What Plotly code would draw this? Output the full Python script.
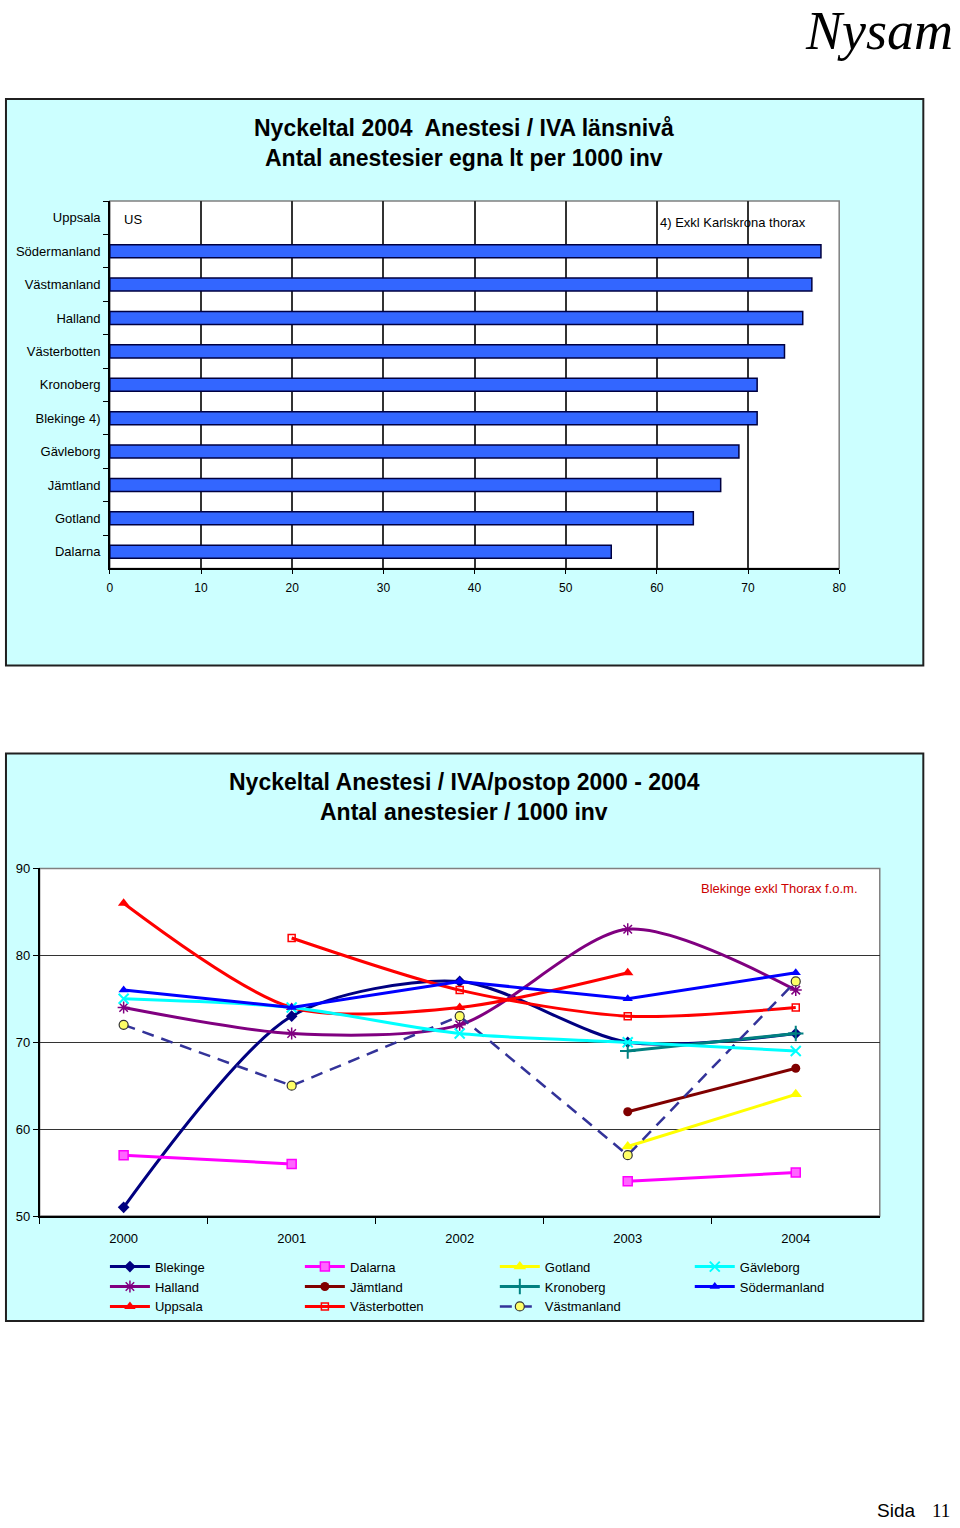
import plotly.graph_objects as go

# ---------------- data ----------------
bar_regions = ["Uppsala", "Södermanland", "Västmanland", "Halland", "Västerbotten",
               "Kronoberg", "Blekinge 4)", "Gävleborg", "Jämtland", "Gotland", "Dalarna"]
bar_values = [None, 78, 77, 76, 74, 71, 71, 69, 67, 64, 55]

years = ["2000", "2001", "2002", "2003", "2004"]
blekinge = [51, 73, 77, 70, 71]
dalarna = [57, 56, None, 54, 55]
gotland = [None, None, None, 58, 64]
gavleborg = [75, 74, 71, 70, 69]
halland = [74, 71, 72, 83, 76]
jamtland = [None, None, None, 62, 67]
kronoberg = [None, None, None, 69, 71]
sodermanland = [76, 74, 77, 75, 78]
uppsala = [86, 74, 74, 78, None]
vasterbotten = [None, 82, 76, 73, 74]
vastmanland = [72, 65, 73, 57, 77]

W, H = 960, 1528
FONT = "Liberation Sans, Arial, sans-serif"
NARROW = "Liberation Sans Narrow, Arial Narrow, Liberation Sans, Arial, sans-serif"


def px(x):
    return x / W


def py(y):
    return 1 - y / H


fig = go.Figure()

# ---------------- bar chart ----------------
fig.add_trace(go.Bar(
    x=bar_values, y=bar_regions, orientation="h",
    marker=dict(color="#3366FF", line=dict(color="#000040", width=1.5)),
    width=0.39, xaxis="x", yaxis="y", showlegend=False,
))

# ---------------- line chart ----------------
series = [
    ("Blekinge", blekinge, "#000080", "diamond", dict(size=9, color="#000080"), "solid", "spline", "legend"),
    ("Halland", halland, "#800080", "asterisk-open", dict(size=10, color="#800080", line=dict(width=1.5, color="#800080")), "solid", "spline", "legend"),
    ("Uppsala", uppsala, "#FF0000", "triangle-up", dict(size=10, color="#FF0000"), "solid", "spline", "legend"),
    ("Dalarna", dalarna, "#FF00FF", "square", dict(size=9, color="#FF66FF", line=dict(width=1.5, color="#FF00FF")), "solid", "linear", "legend2"),
    ("Jämtland", jamtland, "#800000", "circle", dict(size=9, color="#800000"), "solid", "linear", "legend2"),
    ("Västerbotten", vasterbotten, "#FF0000", "square-open", dict(size=7, color="#FF0000", line=dict(width=1.5, color="#FF0000")), "solid", "spline", "legend2"),
    ("Gotland", gotland, "#FFFF00", "triangle-up", dict(size=11, color="#FFFF00"), "solid", "linear", "legend3"),
    ("Kronoberg", kronoberg, "#008080", "cross-thin-open", dict(size=11, color="#008080", line=dict(width=2, color="#008080")), "solid", "linear", "legend3"),
    ("Västmanland", vastmanland, "#333399", "circle", dict(size=9, color="#FFFF66", line=dict(width=1.2, color="#333333")), "dash", "linear", "legend3"),
    ("Gävleborg", gavleborg, "#00FFFF", "x-thin-open", dict(size=10, color="#00FFFF", line=dict(width=2, color="#00FFFF")), "solid", "spline", "legend4"),
    ("Södermanland", sodermanland, "#0000FF", "triangle-up", dict(size=9, color="#0000FF"), "solid", "linear", "legend4"),
]

for name, data, color, symbol, mk, dash, shape, leg in series:
    fig.add_trace(go.Scatter(
        x=years, y=data, name=name, mode="lines+markers",
        line=dict(color=color, width=3 if dash == "solid" else 2.5,
                  dash="solid" if dash == "solid" else "12px,8px",
                  shape=shape, smoothing=0.8),
        marker=dict(symbol=symbol, **mk),
        connectgaps=False, xaxis="x2", yaxis="y2", legend=leg,
    ))

# ---------------- layout ----------------
shapes = [
    dict(type="rect", xref="paper", yref="paper", x0=px(3), x1=px(930), y0=py(665), y1=py(93),
         fillcolor="#CCFFFF", line=dict(color="#202020", width=2), layer="below"),
    dict(type="rect", xref="paper", yref="paper", x0=px(3), x1=px(930), y0=py(1327), y1=py(754),
         fillcolor="#CCFFFF", line=dict(color="#202020", width=2), layer="below"),
    dict(type="rect", xref="x domain", yref="y domain", x0=0, x1=1, y0=0, y1=1,
         fillcolor="white", line=dict(color="#808080", width=1.5), layer="below"),
    dict(type="rect", xref="x2 domain", yref="y2 domain", x0=0, x1=1, y0=0, y1=1,
         fillcolor="white", line=dict(color="#808080", width=1.5), layer="below"),
]


def ann(text, x, y, size, family=FONT, color="black", xanchor="center"):
    return dict(text=text, x=px(x), y=py(y), xref="paper", yref="paper", xanchor=xanchor,
                yanchor="middle", showarrow=False, font=dict(family=family, size=size, color=color))


SERIF = "Liberation Serif, Times New Roman, serif"
annotations = [
    ann("<i>Nysam</i>", 962, 24, 54, family=SERIF, xanchor="right"),
    ann("<b>Nyckeltal 2004  Anestesi / IVA länsnivå</b>", 466, 122, 23),
    ann("<b>Antal anestesier egna lt per 1000 inv</b>", 466, 152, 23),
    dict(text="US", x=1.3, y="Uppsala", xref="x", yref="y", xanchor="left", yanchor="middle", yshift=-2,
         showarrow=False, font=dict(family=FONT, size=13, color="black")),
    dict(text="4) Exkl Karlskrona thorax", x=60.1, y="Uppsala", xref="x", yref="y", xanchor="left",
         yanchor="middle", yshift=-5, showarrow=False, font=dict(family=FONT, size=13, color="black")),
    ann("<b>Nyckeltal Anestesi / IVA/postop 2000 - 2004</b>", 466, 783, 23),
    ann("<b>Antal anestesier / 1000 inv</b>", 466, 813, 23),
    ann("Blekinge exkl Thorax f.o.m.", 866, 890, 13, color="#CC0000", xanchor="right"),
    ann("Sida", 924, 1518, 19, xanchor="right"),
    ann("11", 959, 1518, 19, family=SERIF, xanchor="right"),
]

legend_common = dict(orientation="v", bgcolor="rgba(0,0,0,0)", borderwidth=0, itemwidth=40,
                     font=dict(family=NARROW, size=13, color="black"), xanchor="left", yanchor="top",
                     tracegroupgap=0, itemclick=False)

LEG_TOP = 1257

fig.update_layout(
    width=W, height=H, autosize=False,
    margin=dict(l=0, r=0, t=0, b=0),
    paper_bgcolor="white", plot_bgcolor="rgba(0,0,0,0)",
    font=dict(family=FONT, size=12, color="black"),
    shapes=shapes, annotations=annotations,
    xaxis=dict(domain=[px(108), px(845)], anchor="y", range=[0, 80], dtick=10,
               showgrid=True, gridcolor="#333333", gridwidth=1.5,
               showline=True, linecolor="black", linewidth=1.5,
               ticks="outside", ticklen=4, tickcolor="black", ticklabelstandoff=3,
               tickfont=dict(family=FONT, size=12, color="black"), zeroline=False, fixedrange=True),
    yaxis=dict(domain=[py(567), py(196)], anchor="x", type="category", autorange="reversed",
               showline=True, linecolor="black", linewidth=1.5, showgrid=False,
               ticks="outside", ticklen=5, tickcolor="black", tickson="boundaries",
               ticklabelstandoff=5,
               tickfont=dict(family=FONT, size=13, color="black"), fixedrange=True),
    xaxis2=dict(domain=[px(37), px(886)], anchor="y2", type="category", range=[-0.5, 4.5],
                showline=True, linecolor="black", linewidth=1.5, showgrid=False,
                ticks="outside", ticklen=6, tickcolor="black", tickson="boundaries",
                ticklabelstandoff=10,
                tickfont=dict(family=FONT, size=13, color="black"), fixedrange=True),
    yaxis2=dict(domain=[py(1221), py(870)], anchor="x2", range=[50, 90], dtick=10,
                showline=True, linecolor="black", linewidth=1.5,
                showgrid=True, gridcolor="#333333", gridwidth=1.2,
                ticks="outside", ticklen=5, tickcolor="black", zeroline=False,
                tickfont=dict(family=FONT, size=13, color="black"), fixedrange=True),
    legend=dict(x=px(103), y=py(LEG_TOP), **legend_common),
    legend2=dict(x=px(300), y=py(LEG_TOP), **legend_common),
    legend3=dict(x=px(497), y=py(LEG_TOP), **legend_common),
    legend4=dict(x=px(694), y=py(LEG_TOP), **legend_common),
)

fig.write_html("out.html")
